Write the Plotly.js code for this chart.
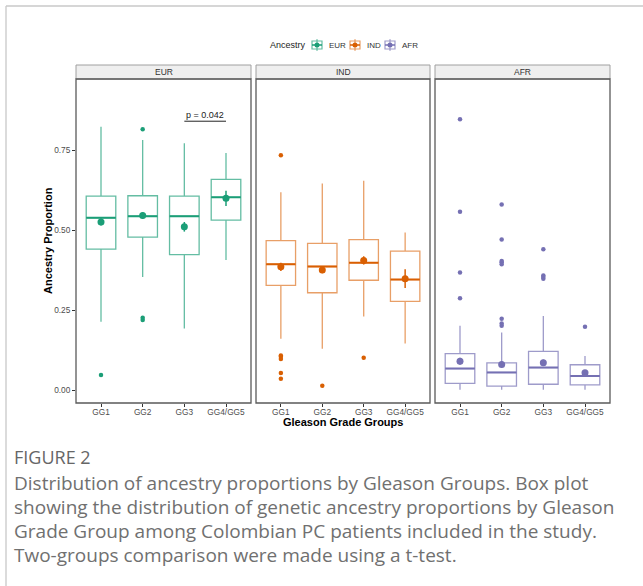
<!DOCTYPE html>
<html>
<head>
<meta charset="utf-8">
<script src="https://cdn.plot.ly/plotly-3.0.1.min.js"></script>
<style>html,body{margin:0;padding:0;background:#fff;}#chart{width:643px;height:586px;}</style>
</head>
<body>
<div id="chart"></div>
<script>
// ---------- data ----------
const categories = ['GG1', 'GG2', 'GG3', 'GG4/GG5'];
const ancestries = ['EUR', 'IND', 'AFR'];
const colors = ['#1b9e77', '#d95f02', '#7570b3'];
const boxLineColors = ['rgba(27,158,119,0.68)', 'rgba(217,95,2,0.6)', 'rgba(117,112,179,0.7)'];

const eurQ1 = [0.440, 0.478, 0.423, 0.531];
const eurMedian = [0.538, 0.543, 0.543, 0.602];
const eurQ3 = [0.606, 0.607, 0.606, 0.658];
const eurLower = [0.213, 0.353, 0.192, 0.406];
const eurUpper = [0.823, 0.781, 0.771, 0.741];
const eurMean = [0.525, 0.545, 0.510, 0.599];
const eurSE = [0.011, 0.010, 0.015, 0.024];
const eurOutX = ['GG1', 'GG2', 'GG2', 'GG2'];
const eurOutY = [0.047, 0.815, 0.226, 0.219];

const indQ1 = [0.327, 0.304, 0.343, 0.277];
const indMedian = [0.393, 0.386, 0.398, 0.345];
const indQ3 = [0.467, 0.458, 0.470, 0.434];
const indLower = [0.160, 0.129, 0.230, 0.145];
const indUpper = [0.618, 0.645, 0.654, 0.492];
const indMean = [0.385, 0.375, 0.405, 0.348];
const indSE = [0.013, 0.010, 0.013, 0.029];
const indOutX = ['GG1', 'GG1', 'GG1', 'GG1', 'GG1', 'GG1', 'GG2', 'GG3'];
const indOutY = [0.734, 0.108, 0.104, 0.097, 0.053, 0.035, 0.013, 0.101];

const afrQ1 = [0.021, 0.012, 0.018, 0.016];
const afrMedian = [0.067, 0.055, 0.070, 0.044];
const afrQ3 = [0.114, 0.085, 0.121, 0.079];
const afrLower = [0.001, 0.001, 0.001, 0.001];
const afrUpper = [0.201, 0.180, 0.231, 0.106];
const afrMean = [0.090, 0.080, 0.085, 0.054];
const afrSE = [0.011, 0.010, 0.010, 0.008];
const afrOutX = ['GG1', 'GG1', 'GG1', 'GG1', 'GG2', 'GG2', 'GG2', 'GG2', 'GG2', 'GG2', 'GG2', 'GG2', 'GG3', 'GG3', 'GG3', 'GG3', 'GG4/GG5'];
const afrOutY = [0.846, 0.557, 0.367, 0.287, 0.580, 0.470, 0.403, 0.399, 0.393, 0.223, 0.208, 0.201, 0.440, 0.358, 0.353, 0.348, 0.198];

const pValueText = 'p = 0.042';
const pValueGroups = ['GG3', 'GG4/GG5'];
const pValueY = 0.84;

const yTicks = [0, 0.25, 0.5, 0.75];
const legendTitle = 'Ancestry';

const captionTitle = 'FIGURE 2';
const captionLines = [
  'Distribution of ancestry proportions by Gleason Groups. Box plot',
  'showing the distribution of genetic ancestry proportions by Gleason',
  'Grade Group among Colombian PC patients included in the study.',
  'Two-groups comparison were made using a t-test.'
];

// ---------- build ----------
const W = 643, H = 586;
const px = v => v / W;
const py = v => 1 - v / H;

const groups = [
  {q1: eurQ1, med: eurMedian, q3: eurQ3, lo: eurLower, hi: eurUpper, mean: eurMean, se: eurSE, ox: eurOutX, oy: eurOutY},
  {q1: indQ1, med: indMedian, q3: indQ3, lo: indLower, hi: indUpper, mean: indMean, se: indSE, ox: indOutX, oy: indOutY},
  {q1: afrQ1, med: afrMedian, q3: afrQ3, lo: afrLower, hi: afrUpper, mean: afrMean, se: afrSE, ox: afrOutX, oy: afrOutY}
];
const xAxisIds = ['x', 'x2', 'x3'];
const panelPx = [[76, 251], [256, 430], [435, 610]];
const panelTop = 79, panelBottom = 403, stripTop = 65;

const traces = [];
groups.forEach((g, i) => {
  const xa = xAxisIds[i];
  traces.push({
    type: 'box', name: ancestries[i], showlegend: false,
    x: categories, q1: g.q1, median: g.med, q3: g.q3, lowerfence: g.lo, upperfence: g.hi,
    boxpoints: false, width: 0.71, whiskerwidth: 0,
    line: {color: boxLineColors[i], width: 1.3}, fillcolor: 'white',
    xaxis: xa, yaxis: 'y', hoverinfo: 'skip'
  });
  traces.push({
    type: 'box', name: ancestries[i], showlegend: false,
    x: categories, q1: g.med, median: g.med, q3: g.med, lowerfence: g.med, upperfence: g.med,
    boxpoints: false, width: 0.71, whiskerwidth: 0,
    line: {color: colors[i], width: 2}, fillcolor: 'rgba(0,0,0,0)',
    xaxis: xa, yaxis: 'y', hoverinfo: 'skip'
  });
  traces.push({
    type: 'scatter', mode: 'markers', name: ancestries[i], showlegend: false,
    x: g.ox, y: g.oy, marker: {color: colors[i], size: 4.5},
    xaxis: xa, yaxis: 'y', hoverinfo: 'skip'
  });
  traces.push({
    type: 'scatter', mode: 'markers', name: ancestries[i], showlegend: false,
    x: categories, y: g.mean, marker: {color: colors[i], size: 7},
    error_y: {type: 'data', array: g.se, visible: true, width: 0, thickness: 1.5, color: colors[i]},
    xaxis: xa, yaxis: 'y', hoverinfo: 'skip'
  });
});

const baseFont = 'Liberation Sans, Arial, sans-serif';
const tickFont = {family: baseFont, size: 8.3, color: '#4d4d4d'};
const layout = {
  width: W, height: H,
  margin: {l: 0, r: 0, t: 0, b: 0},
  paper_bgcolor: 'white', plot_bgcolor: 'white',
  boxmode: 'overlay',
  showlegend: false,
  yaxis: {
    domain: [py(panelBottom), py(panelTop)], range: [-0.0406, 0.9719], anchor: 'x',
    tickvals: yTicks, tickformat: '.2f', ticks: 'outside', ticklen: 3, tickcolor: '#333', tickwidth: 1,
    showgrid: false, zeroline: false, showline: false, tickfont: tickFont, automargin: false,
    ticklabelstandoff: 0
  },
  shapes: [], annotations: []
};
xAxisIds.forEach((xa, i) => {
  const key = i === 0 ? 'xaxis' : 'xaxis' + (i + 1);
  layout[key] = {
    domain: [px(panelPx[i][0]), px(panelPx[i][1])], anchor: 'y',
    type: 'category', categoryorder: 'array', categoryarray: categories, range: [-0.6, 3.6],
    ticks: 'outside', ticklen: 3, tickcolor: '#333', tickwidth: 1,
    showgrid: false, zeroline: false, showline: false, tickfont: tickFont, automargin: false,
    ticklabelstandoff: -2
  };
  const dref = xa + ' domain';
  layout.shapes.push({type: 'rect', xref: dref, yref: 'paper', x0: 0, x1: 1, y0: py(panelTop), y1: py(stripTop),
    fillcolor: '#efefef', line: {color: '#a0a0a0', width: 1}, layer: 'below'});
  layout.shapes.push({type: 'rect', xref: dref, yref: 'y domain', x0: 0, x1: 1, y0: 0, y1: 1,
    line: {color: '#5a5a5a', width: 1.3}, layer: 'above'});
  layout.annotations.push({xref: dref, yref: 'paper', x: 0.5, y: py((panelTop + stripTop) / 2), text: ancestries[i],
    showarrow: false, xanchor: 'center', yanchor: 'middle',
    font: {family: baseFont, size: 8.5, color: '#333'}});
});

// p-value bracket
const pi0 = categories.indexOf(pValueGroups[0]), pi1 = categories.indexOf(pValueGroups[1]);
layout.shapes.push({type: 'line', xref: 'x', yref: 'y', x0: pi0, x1: pi1, y0: pValueY, y1: pValueY,
  line: {color: '#222', width: 1}});
layout.annotations.push({xref: 'x', yref: 'y', x: (pi0 + pi1) / 2, y: pValueY, text: pValueText,
  showarrow: false, xanchor: 'center', yanchor: 'bottom', yshift: -1,
  font: {family: baseFont, size: 9, color: '#222'}});

// axis titles
layout.annotations.push({xref: 'paper', yref: 'paper', x: px(343), y: py(422), text: '<b>Gleason Grade Groups</b>',
  showarrow: false, xanchor: 'center', yanchor: 'middle',
  font: {family: baseFont, size: 11, color: '#000'}});
layout.annotations.push({xref: 'paper', yref: 'paper', x: px(48), y: py(241), text: '<b>Ancestry Proportion</b>',
  showarrow: false, xanchor: 'center', yanchor: 'middle', textangle: -90,
  font: {family: baseFont, size: 11, color: '#000'}});

// legend (drawn manually, compact ggplot style)
const legY = 45;
layout.annotations.push({xref: 'paper', yref: 'paper', x: px(268), y: py(legY), text: legendTitle,
  showarrow: false, xanchor: 'left', yanchor: 'middle', font: {family: baseFont, size: 9, color: '#222'}});
const legIconX = [317, 355, 390];
ancestries.forEach((a, i) => {
  const cx = legIconX[i];
  layout.shapes.push({type: 'rect', xref: 'paper', yref: 'paper', x0: px(cx - 5), x1: px(cx + 5), y0: py(legY + 4), y1: py(legY - 4),
    fillcolor: 'rgba(255,255,255,1)', line: {color: boxLineColors[i], width: 1.2}});
  layout.shapes.push({type: 'line', xref: 'paper', yref: 'paper', x0: px(cx), x1: px(cx), y0: py(legY + 6), y1: py(legY - 6),
    line: {color: boxLineColors[i], width: 1}});
  layout.shapes.push({type: 'line', xref: 'paper', yref: 'paper', x0: px(cx - 5), x1: px(cx + 5), y0: py(legY), y1: py(legY),
    line: {color: colors[i], width: 1.5}});
  layout.shapes.push({type: 'circle', xref: 'paper', yref: 'paper', x0: px(cx - 2.5), x1: px(cx + 2.5), y0: py(legY + 2.5), y1: py(legY - 2.5),
    fillcolor: colors[i], line: {width: 0}});
  layout.annotations.push({xref: 'paper', yref: 'paper', x: px(cx + 10), y: py(legY), text: a,
    showarrow: false, xanchor: 'left', yanchor: 'middle', font: {family: baseFont, size: 8, color: '#333'}});
});

// figure frame
layout.shapes.push({type: 'line', xref: 'paper', yref: 'paper', x0: px(6), x1: px(6), y0: 0, y1: py(6),
  line: {color: '#c8c8c8', width: 1.3}});
layout.shapes.push({type: 'line', xref: 'paper', yref: 'paper', x0: px(6), x1: 1, y0: py(6), y1: py(6),
  line: {color: '#c8c8c8', width: 1.3}});

// caption
const capFont = {family: 'Open Sans, Lato, sans-serif', size: 19, color: '#707070'};
layout.annotations.push({xref: 'paper', yref: 'paper', x: px(12), y: py(457), text: captionTitle,
  showarrow: false, xanchor: 'left', yanchor: 'middle',
  font: {family: 'Open Sans, Lato, sans-serif', size: 18, color: '#666'}});
const capY = [483, 507, 531, 555];
captionLines.forEach((t, k) => {
  layout.annotations.push({xref: 'paper', yref: 'paper', x: px(12), y: py(capY[k]), text: t,
    showarrow: false, xanchor: 'left', yanchor: 'middle', font: capFont});
});

Plotly.newPlot('chart', traces, layout, {displayModeBar: false, staticPlot: true});
</script>
</body>
</html>
